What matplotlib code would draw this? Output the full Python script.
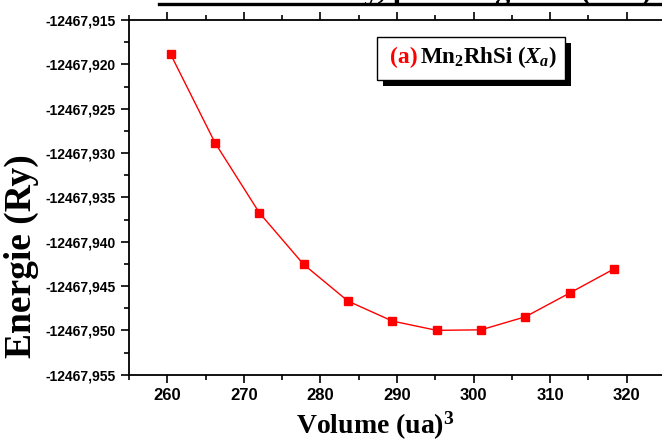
import matplotlib
matplotlib.use("Agg")
import matplotlib.pyplot as plt
from matplotlib.lines import Line2D
from matplotlib.patches import Rectangle
from matplotlib.ticker import FuncFormatter, MultipleLocator

# data
volume = [260.44, 266.23, 272.02, 277.80, 283.60, 289.39, 295.19, 300.97, 306.76, 312.55, 318.30]
energy = [-12467.91887, -12467.92884, -12467.93674, -12467.94256, -12467.94670,
          -12467.94895, -12467.95000, -12467.94994, -12467.94847, -12467.94579, -12467.94309]

x_label = "Volume (ua)$^3$"
y_label = "Energie (Ry)"
box_tag = "(a)"
box_text = "Mn$_2$RhSi ($X_a$)"
top_title = "Stability, paramagnetic (NM)"

W, H = 662, 443
plt.rcParams['mathtext.fontset'] = 'custom'
plt.rcParams['mathtext.rm'] = 'Liberation Serif:bold'
plt.rcParams['mathtext.bf'] = 'Liberation Serif:bold'
plt.rcParams['mathtext.it'] = 'Liberation Serif:italic:bold'


def px(x, y):
    # pixel position (from top-left) -> figure fraction
    return x / W, 1 - y / H


fig = plt.figure(figsize=(W / 100, H / 100), dpi=100)
ax = fig.add_axes([129 / W, 1 - 374.7 / H, (665 - 129) / W, (374.7 - 20) / H])

ax.plot(volume, energy, color="#ff0000", lw=1.0, marker="s", ms=6,
        mfc="#ff0000", mec="#ff0000", clip_on=False)

ax.set_xlim(255, 325)
ax.set_ylim(-12467.955, -12467.915)
ax.xaxis.set_major_locator(MultipleLocator(10))
ax.xaxis.set_minor_locator(MultipleLocator(5))
ax.yaxis.set_major_locator(MultipleLocator(0.005))
ax.yaxis.set_minor_locator(MultipleLocator(0.0025))
ax.yaxis.set_major_formatter(FuncFormatter(lambda v, p: f"{v:.3f}".replace(".", ",")))

for s in ax.spines.values():
    s.set_linewidth(1.3)
ax.tick_params(which="major", direction="out", length=6, width=1.2, top=True)
ax.tick_params(which="minor", direction="out", length=3.5, width=1.2, top=True)
ax.tick_params(axis="x", which="both", labeltop=False)
ax.tick_params(axis="x", which="major", labelsize=12, pad=3.5)
ax.tick_params(axis="y", which="major", labelsize=10, pad=3.5)
for lab in ax.get_xticklabels() + ax.get_yticklabels():
    lab.set_family("Liberation Sans")
    lab.set_fontweight("bold")

# axis titles
fig.text(*px(375, 434), x_label, ha="center", va="baseline", family="Liberation Serif",
         fontweight="bold", fontsize=20)
fig.text(*px(21, 256), y_label, ha="center", va="center", rotation=90,
         family="Liberation Serif", fontweight="bold", fontsize=27)

# label box with shadow
bx0, by0, bx1, by1 = 377, 37, 565, 80
fig.patches.append(Rectangle(px(bx0 + 6, by1 + 6), (bx1 - bx0) / W, (by1 - by0) / H,
                             transform=fig.transFigure, facecolor="black", edgecolor="none"))
fig.patches.append(Rectangle(px(bx0, by1), (bx1 - bx0) / W, (by1 - by0) / H,
                             transform=fig.transFigure, facecolor="white", edgecolor="black", lw=1.0))
fig.text(*px(390, 63), box_tag, color="#ff0000", family="Liberation Serif", fontweight="bold",
         fontsize=17, va="baseline")
fig.text(*px(420, 63), box_text, color="black", family="Liberation Serif", fontweight="bold",
         fontsize=16.5, va="baseline")

# title of the page, cut off at the top edge in the reference: only descenders show
fig.text(*px(652, -0.5), top_title, ha="right", va="baseline", family="Liberation Serif",
         fontweight="bold", fontsize=22, zorder=3)
fig.lines.append(Line2D([159 / W, 1], [1 - 3.5 / H, 1 - 3.5 / H], transform=fig.transFigure,
                        color="black", lw=2.4, zorder=5))

fig.savefig("out.png", dpi=100)
